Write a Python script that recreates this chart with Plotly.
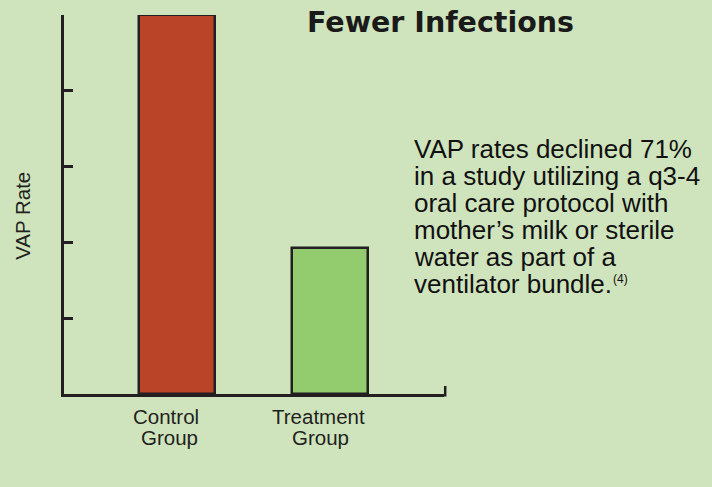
import plotly.graph_objects as go

# ---- data ----
categories = ["Control Group", "Treatment Group"]
vap_rate = [5.0, 1.93]
bar_colors = ["#b94428", "#93cb6f"]
tick_label_lines = [["Control", "Group"], ["Treatment", "Group"]]
y_ticks = [0, 1, 2, 3, 4, 5]
title_text = "Fewer Infections"
y_title = "VAP Rate"
note_lines = [
    "VAP rates declined 71%",
    "in a study utilizing a q3-4",
    "oral care protocol with",
    "mother\u2019s milk or sterile",
    "water as part of a",
    "ventilator bundle.",
]
note_ref = "(4)"

# ---- layout geometry (pixels) ----
W, H_FIG = 712, 487
L, R_EDGE = 64, 444
T, B = 14.5, 394.5
PW, PH = R_EDGE - L, B - T
BG = "#cfe4bc"
INK = "#231f20"
FONT = "Liberation Sans, Arial, sans-serif"


def px(xp):
    return (xp - L) / PW


def py(yp):
    return (B - yp) / PH


fig = go.Figure(
    go.Bar(
        x=categories,
        y=vap_rate,
        width=0.4965,
        marker=dict(color=bar_colors, line=dict(color=INK, width=2.5)),
        hoverinfo="skip",
    )
)

annotations = []
# title
annotations.append(dict(
    text="<b>" + title_text + "</b>", xref="paper", yref="paper",
    x=px(440), y=py(22.3), xanchor="center", yanchor="middle", showarrow=False,
    font=dict(family="DejaVu Sans, Arial Black, sans-serif", size=28.5, color="#1a1a1a"),
))
# note paragraph, one annotation per line
for i, line in enumerate(note_lines):
    annotations.append(dict(
        text=line, xref="paper", yref="paper",
        x=px(412), y=py(149 + 27 * i), xanchor="left", yanchor="middle", showarrow=False,
        font=dict(family=FONT, size=26, color="#111111"),
    ))
annotations.append(dict(
    text=note_ref, xref="paper", yref="paper",
    x=px(611), y=py(279), xanchor="left", yanchor="middle", showarrow=False,
    font=dict(family=FONT, size=12, color="#111111"),
))
# category labels
shifts = [[-11, -8], [-12, -10]]
for ci, cat in enumerate(categories):
    for li, part in enumerate(tick_label_lines[ci]):
        annotations.append(dict(
            text=part, xref="x", yref="paper",
            x=cat, xshift=shifts[ci][li], y=py(417 + 21 * li),
            xanchor="center", yanchor="middle", showarrow=False,
            font=dict(family=FONT, size=20.5, color=INK),
        ))
# y title
annotations.append(dict(
    text=y_title, xref="paper", yref="paper",
    x=px(22.9), y=py(216), xanchor="center", yanchor="middle", showarrow=False,
    textangle=-90, font=dict(family=FONT, size=20.5, color=INK),
))

fig.update_layout(
    width=W, height=H_FIG,
    margin=dict(l=L, r=W - R_EDGE, t=T, b=H_FIG - B, pad=0),
    paper_bgcolor=BG, plot_bgcolor=BG,
    showlegend=False,
    bargap=0,
    annotations=annotations,
    shapes=[dict(
        type="line", xref="paper", yref="paper",
        x0=1 + 1.2 / PW, x1=1 + 1.2 / PW, y0=-2.5 / PH, y1=8 / PH,
        line=dict(color=INK, width=2.5),
    )],
    xaxis=dict(
        type="category", range=[-0.7426, 1.7459],
        showline=True, linecolor=INK, linewidth=2.5,
        showgrid=False, zeroline=False, ticks="", showticklabels=False,
        fixedrange=True,
    ),
    yaxis=dict(
        range=[0, 5], tickvals=y_ticks,
        showline=True, linecolor=INK, linewidth=2.5,
        ticks="inside", ticklen=9, tickwidth=2.5, tickcolor=INK,
        showgrid=False, zeroline=False, showticklabels=False,
        fixedrange=True,
    ),
)

fig.write_html(
    "out.html",
    config={"displayModeBar": False},
    post_script="document.body.style.margin='0';document.body.style.background='" + BG + "';",
)
